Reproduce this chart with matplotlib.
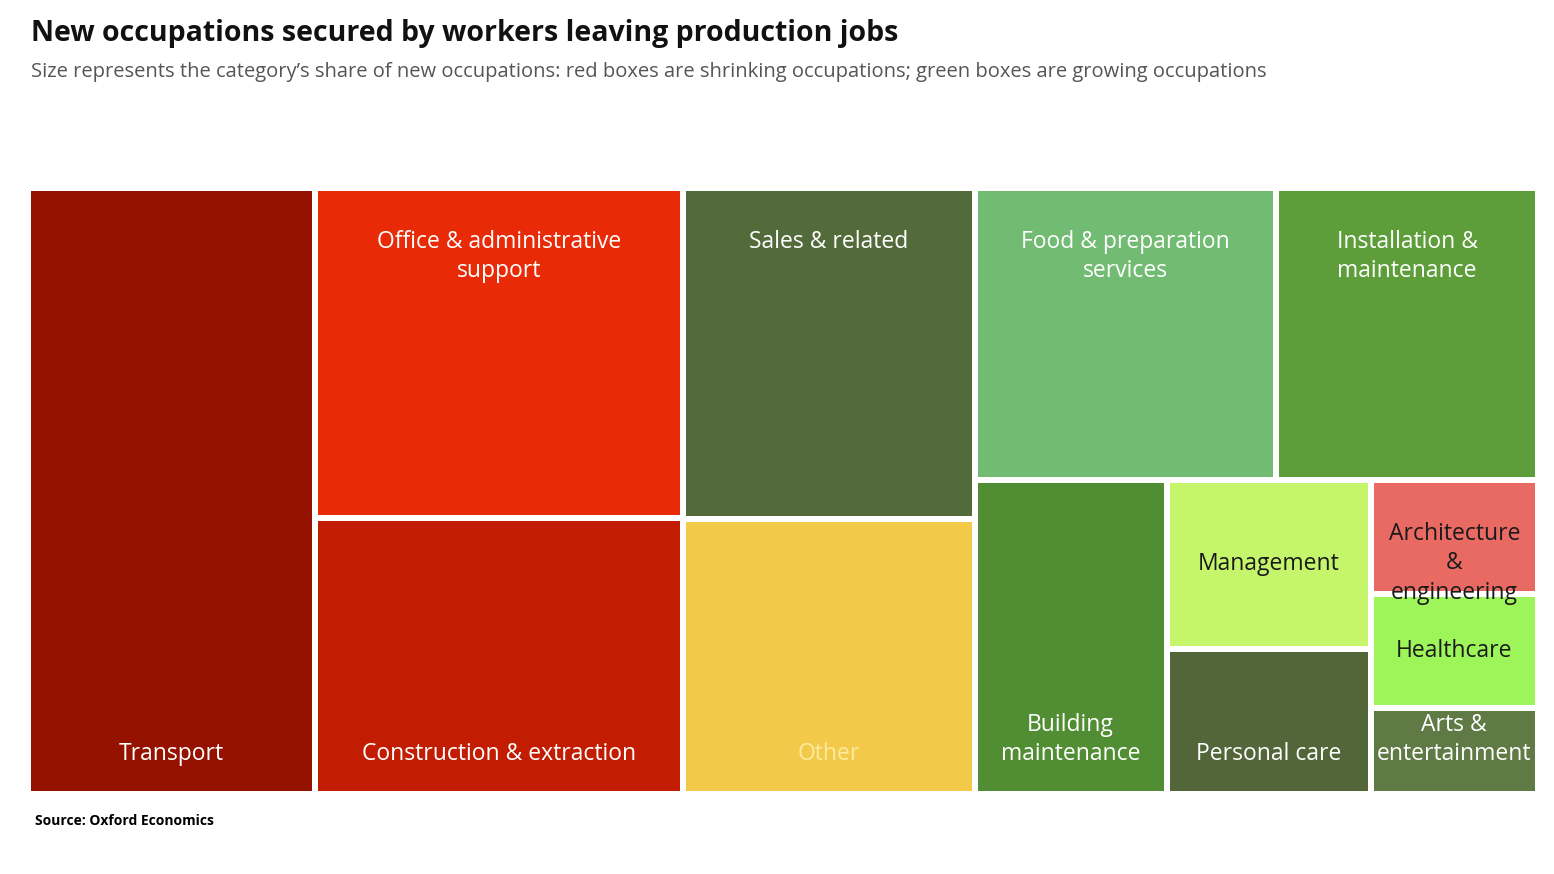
import matplotlib.pyplot as plt
from matplotlib.patches import Rectangle

# share of new occupations (%)
categories = ["Transport", "Office & administrative\nsupport", "Construction & extraction",
              "Sales & related", "Other", "Food & preparation\nservices",
              "Installation &\nmaintenance", "Building\nmaintenance", "Management",
              "Personal care", "Architecture\n&\nengineering", "Healthcare",
              "Arts &\nentertainment"]
shares = [18.2, 12.7, 10.6, 10.1, 8.4, 9.2, 8.0, 6.3, 3.6, 3.1, 2.0, 2.0, 1.5]

colors = ["#961200", "#e82a07", "#c21d03", "#536b3a", "#f3c94a", "#72bb72", "#5e9e3a",
          "#518d32", "#c5f56b", "#52663a", "#e86a62", "#9ef55a", "#5f7a45"]
text_colors = ["white"] * 13
text_colors[8] = text_colors[10] = text_colors[11] = "#1a1a1a"
text_colors[4] = "#fbeaa0"
# label placement: top / bottom / center
where = ["bottom", "top", "bottom", "top", "bottom", "top", "top", "bottom",
         "center", "bottom", "top", "center", "bottom"]

# nesting of the slice layout: ('h', ...) side by side, ('v', ...) stacked
tree = ('h', [0, ('v', [1, 2]), ('v', [3, 4]),
              ('v', [('h', [5, 6]), ('h', [7, ('v', [8, 9]), ('v', [10, 11, 12])])])])


def total(node):
    if isinstance(node, int):
        return shares[node]
    return sum(total(c) for c in node[1])


def layout(node, x, y, w, h, out):
    if isinstance(node, int):
        out[node] = (x, y, w, h)
        return
    d, kids = node
    s = total(node)
    for k in kids:
        f = total(k) / s
        if d == 'h':
            layout(k, x, y, w * f, h, out)
            x += w * f
        else:
            layout(k, x, y, w, h * f, out)
            y += h * f


rects = {}
layout(tree, 28, 188, 1510, 606, rects)

fig = plt.figure(figsize=(15.54, 8.74), dpi=100)
ax = fig.add_axes([0, 0, 1, 1])
ax.set_xlim(0, 1554)
ax.set_ylim(874, 0)
ax.axis('off')

g = 3
for i, (x, y, w, h) in rects.items():
    ax.add_patch(Rectangle((x + g, y + g), w - 2 * g, h - 2 * g, color=colors[i], lw=0))
    cx = x + w / 2
    if where[i] == "top":
        ty, va = y + 42, "top"
    elif where[i] == "bottom":
        ty, va = y + h - 28, "bottom"
    else:
        ty, va = y + h / 2, "center"
    ax.text(cx, ty, categories[i], color=text_colors[i], ha="center", va=va,
            fontsize=16.5, family="Open Sans", linespacing=1.3)

ax.text(31, 34, "New occupations secured by workers leaving production jobs",
        fontsize=20.5, fontweight="bold", family="Open Sans", va="center", color="#111111")
ax.text(31, 72, "Size represents the category\u2019s share of new occupations: red boxes are "
        "shrinking occupations; green boxes are growing occupations",
        fontsize=14.5, family="Open Sans", va="center", color="#555555")
ax.text(35, 821, "Source: Oxford Economics", fontsize=10, fontweight="bold",
        family="Open Sans", va="center", color="black")

fig.savefig("out.png", dpi=100)
